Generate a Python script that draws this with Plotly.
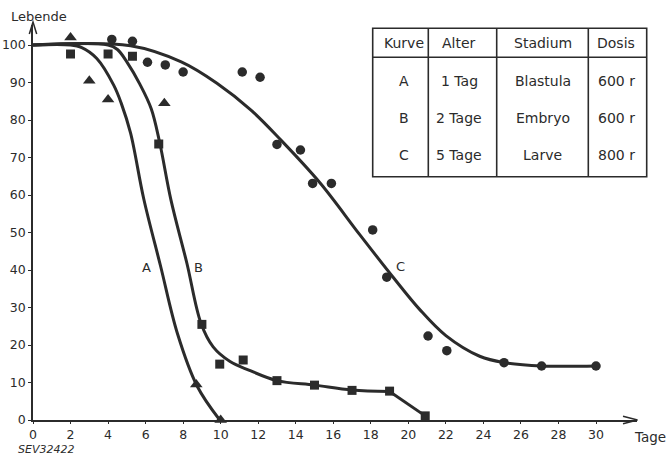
import plotly.graph_objects as go

# ---------------- data ----------------
# Curve A (1 Tag, Blastula) measured points (triangles)
a_x = [2, 3, 4, 7, 8.7, 10]
a_y = [102, 90.5, 85.5, 84.5, 9.5, 0]
# Curve B (2 Tage, Embryo) measured points (squares)
b_x = [2, 4, 5.3, 6.7, 9.0, 9.95, 11.2, 13, 15, 17, 19, 20.9]
b_y = [97.6, 97.6, 97, 73.6, 25.5, 14.9, 16, 10.5, 9.3, 7.9, 7.7, 1.1]
# Curve C (5 Tage, Larve) measured points (circles)
c_x = [4.2, 5.3, 6.1, 7.05, 8.0, 11.15, 12.1, 13.0, 14.25, 14.9, 15.9, 18.1, 18.85, 21.05, 22.05, 25.1, 27.1, 30]
c_y = [101.5, 101, 95.4, 94.7, 92.8, 92.8, 91.4, 73.5, 72, 63.1, 63.1, 50.7, 38.1, 22.4, 18.5, 15.3, 14.4, 14.4]

# fitted curves
acurve_x = [0, 2, 2.6, 3.4, 4.3, 4.7, 5.2, 5.9, 6.8, 7.7, 8.75, 9.95]
acurve_y = [100, 100, 99.3, 96.4, 89.3, 84.5, 76.5, 59, 41, 23, 9, 0]
bcurve_x = [0, 4, 4.5, 5.0, 5.7, 6.3, 6.75, 7.35, 8.2, 8.95, 9.6, 10.5, 11.5, 13, 15, 17, 19]
bcurve_y = [100, 100, 98.8, 95.5, 89.5, 83, 74, 58.7, 41.8, 25.8, 19.5, 15.6, 13.3, 10.5, 9.3, 8.0, 7.6]
bend_x = [19, 20.9]
bend_y = [7.6, 1.1]
ccurve_x = [0, 5.2, 7.9, 9.8, 11.6, 13.2, 15.3, 17.4, 19.2, 20.6, 22.0, 23.8, 25.1, 27.1, 30]
ccurve_y = [100, 99.8, 95.5, 89.8, 82.7, 74.7, 63.2, 49.5, 38, 29.5, 22.5, 17, 15.3, 14.4, 14.4]

curve_labels = ["A", "B", "C"]
label_x = [6.05, 8.8, 19.6]
label_y = [40.8, 40.8, 41]

x_ticks = list(range(0, 31, 2))
y_ticks = list(range(0, 101, 10))

table_header = ["Kurve", "Alter", "Stadium", "Dosis"]
table_rows = [
    ["A", "1 Tag", "Blastula", "600 r"],
    ["B", "2 Tage", "Embryo", "600 r"],
    ["C", "5 Tage", "Larve", "800 r"],
]

# ---------------- style ----------------
INK = "#2b2b2b"
FONT = "DejaVu Sans"
L, R, T, B = 33, 637, 25, 420  # plot area in pixels
W, H = 668, 456
XMAX = 30 * (R - L) / (596 - L)
YMAX = (B - T) / 3.75


def px(x):
    return (x - L) / (R - L)


def py(y):
    return (B - y) / (B - T)


def note(x, y, text, size, **kw):
    fig.add_annotation(xref="paper", yref="paper", x=px(x), y=py(y), text=text,
                       showarrow=False, xanchor="center", yanchor="middle",
                       font=dict(family=FONT, size=size, color=INK), **kw)


fig = go.Figure()

line_style = dict(color=INK, width=3, shape="spline", smoothing=1.0)
fig.add_trace(go.Scatter(x=acurve_x, y=acurve_y, mode="lines", line=line_style, hoverinfo="skip"))
fig.add_trace(go.Scatter(x=bcurve_x, y=bcurve_y, mode="lines", line=line_style, hoverinfo="skip"))
fig.add_trace(go.Scatter(x=bend_x, y=bend_y, mode="lines", line=dict(color=INK, width=3), hoverinfo="skip"))
fig.add_trace(go.Scatter(x=ccurve_x, y=ccurve_y, mode="lines", line=line_style, hoverinfo="skip"))

fig.add_trace(go.Scatter(x=c_x, y=c_y, mode="markers", cliponaxis=False,
                         marker=dict(symbol="circle", size=9.5, color=INK)))
fig.add_trace(go.Scatter(x=b_x, y=b_y, mode="markers", cliponaxis=False,
                         marker=dict(symbol="square", size=9, color=INK)))
fig.add_trace(go.Scatter(x=a_x, y=a_y, mode="markers", cliponaxis=False,
                         marker=dict(symbol="triangle-up", size=11, color=INK)))

# curve letters
for t, x, y in zip(curve_labels, label_x, label_y):
    fig.add_annotation(x=x, y=y, text=t, showarrow=False, xanchor="center", yanchor="middle",
                       font=dict(family=FONT, size=13, color=INK))

# axis titles / notes
note(38.5, 16, "Lebende", 13)
note(650, 437, "Tage", 13.5)
note(46, 449, "<i>SEV32422</i>", 11)

shapes = []
# arrow heads
shapes.append(dict(type="path", xref="paper", yref="paper",
                   path=f"M {px(623)} {py(416.3)} L {px(637.5)} {py(420)} L {px(623)} {py(423.7)}",
                   line=dict(color=INK, width=1.5)))
shapes.append(dict(type="path", xref="paper", yref="paper",
                   path=f"M {px(29.3)} {py(34)} L {px(33)} {py(22)} L {px(36.7)} {py(34)}",
                   line=dict(color=INK, width=1.5)))

# table
tl, tr, tt, tb = 372.7, 646.7, 28.3, 176.7
th = 57.3
cols = [tl, 428.3, 496.7, 588.3, tr]
shapes.append(dict(type="rect", xref="paper", yref="paper",
                   x0=px(tl), x1=px(tr), y0=py(tb), y1=py(tt),
                   line=dict(color=INK, width=1.6)))
shapes.append(dict(type="line", xref="paper", yref="paper",
                   x0=px(tl), x1=px(tr), y0=py(th), y1=py(th),
                   line=dict(color=INK, width=1.6)))
for cx in cols[1:-1]:
    shapes.append(dict(type="line", xref="paper", yref="paper",
                       x0=px(cx), x1=px(cx), y0=py(tb), y1=py(tt),
                       line=dict(color=INK, width=1.6)))

col_centers = [404, 459, 542.5, 616]
header_y = 43.3
row_ys = [80.7, 118.3, 155]
for c, t in zip(col_centers, table_header):
    note(c, header_y, t, 14)
for ry, row in zip(row_ys, table_rows):
    for c, t in zip(col_centers, row):
        note(c, ry, t, 14)

axis_common = dict(showgrid=False, zeroline=False, automargin=False, fixedrange=True)
fig.update_layout(
    width=W, height=H,
    margin=dict(l=L, r=W - R, t=T, b=H - B, pad=0, autoexpand=False),
    paper_bgcolor="white", plot_bgcolor="white",
    showlegend=False,
    shapes=shapes,
    font=dict(family=FONT, size=12.5, color=INK),
    xaxis=dict(range=[0, XMAX], tickvals=x_ticks, ticktext=[str(v) for v in x_ticks],
               showline=True, linecolor=INK, linewidth=1.5,
               ticks="outside", ticklen=2, tickwidth=1.2, tickcolor=INK,
               tickfont=dict(family=FONT, size=12.5, color=INK), **axis_common),
    yaxis=dict(range=[0, YMAX], tickvals=y_ticks, ticktext=[str(v) for v in y_ticks],
               showline=True, linecolor=INK, linewidth=1.5,
               ticks="outside", ticklen=3, tickwidth=1.2, tickcolor=INK,
               tickfont=dict(family=FONT, size=12.5, color=INK), **axis_common),
    xaxis2=dict(range=[0, XMAX], overlaying="x", anchor="y", side="bottom", tickvals=x_ticks,
                showticklabels=False, showline=False,
                ticks="inside", ticklen=3, tickwidth=1.2, tickcolor=INK, **axis_common),
    yaxis2=dict(range=[0, YMAX], overlaying="y", anchor="x", side="left", tickvals=y_ticks,
                showticklabels=False, showline=False,
                ticks="inside", ticklen=3, tickwidth=1.2, tickcolor=INK, **axis_common),
)

fig.write_html("out.html", config={"displayModeBar": False},
               post_script="document.body.style.margin='0px';")
